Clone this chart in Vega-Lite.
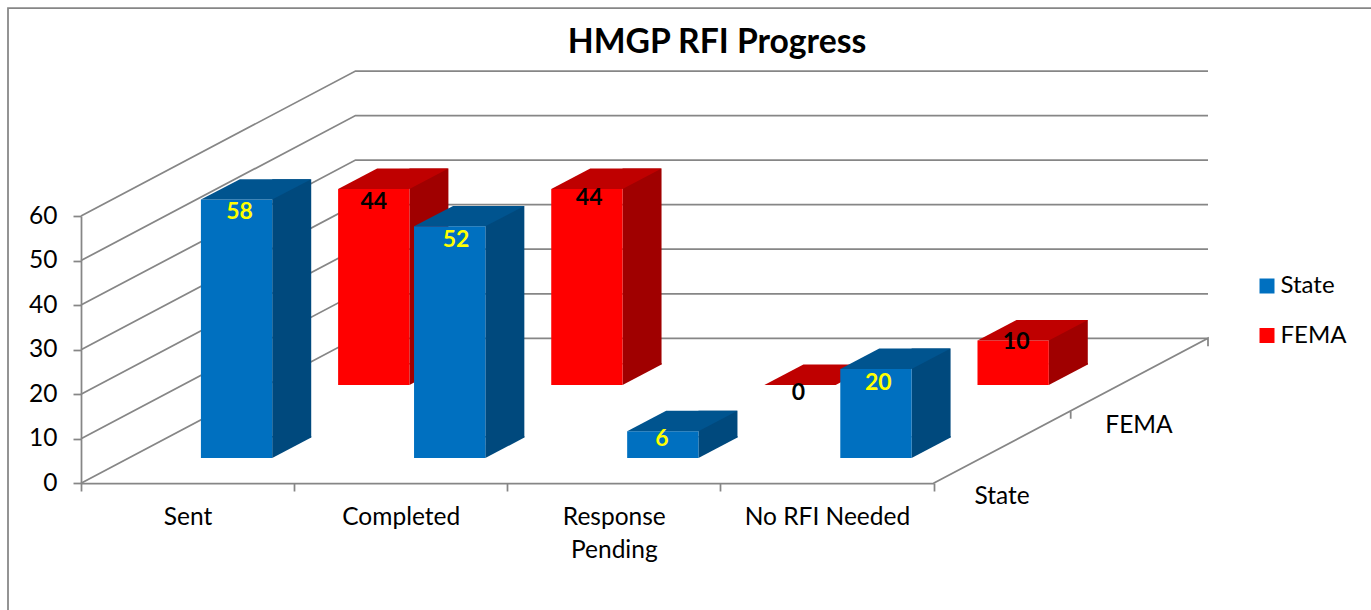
{"$schema":"https://vega.github.io/schema/vega-lite/v6.json","width":1365,"height":606,"autosize":{"type":"none"},"padding":{"left":8,"top":8,"right":-2,"bottom":-4},"background":"white","view":{"stroke":"#868686","strokeWidth":1.75,"fill":null},
"title":{"text":"HMGP RFI Progress","font":"Lato","fontSize":33.7,"fontWeight":"bold","color":"black","anchor":"middle","dx":26.5,"dy":52,"offset":0},
"data":{"values":[{"category":"Sent","series":"State","value":58},{"category":"Completed","series":"State","value":52},{"category":"Response Pending","series":"State","value":6},{"category":"No RFI Needed","series":"State","value":20},{"category":"Sent","series":"FEMA","value":44},{"category":"Completed","series":"FEMA","value":44},{"category":"Response Pending","series":"FEMA","value":0},{"category":"No RFI Needed","series":"FEMA","value":10}]},
"encoding":{"x":{"field":"category","type":"nominal","title":null,"scale":{"type":"band","domain":["Sent","Completed","Response Pending","No RFI Needed"],"range":[73,925.5],"paddingInner":0,"paddingOuter":0},"axis":{"offset":-131,"labelAngle":0,"tickBand":"extent","domainColor":"#868686","domainWidth":1.75,"tickColor":"#868686","tickWidth":1.75,"tickSize":8,"labelFont":"Lato","labelFontSize":24.5,"labelColor":"black","labelPadding":14,"labelLimit":0,"labelLineHeight":33,"labelExpr":"datum.label == 'Response Pending' ? ['Response','Pending'] : datum.label"}},"y":{"field":"value","type":"quantitative","title":null,"stack":null,"scale":{"domain":[0,60],"range":[475.3,208],"nice":false,"zero":true},"axis":{"offset":-73,"values":[0,10,20,30,40,50,60],"grid":false,"domainColor":"#868686","domainWidth":1.75,"tickColor":"#868686","tickWidth":1.75,"tickSize":8,"labelFont":"Lato","labelFontSize":24.5,"labelColor":"black","labelPadding":16}}},
"layer":[
{"data":{"values":[{"tick":0},{"tick":10},{"tick":20},{"tick":30},{"tick":40},{"tick":50},{"tick":60}]},"mark":{"type":"point","shape":"M0,0L274.5,-145H1127","size":4,"filled":false,"stroke":"#868686","strokeWidth":1.75,"opacity":1},"encoding":{"x":{"datum":"Sent","bandPosition":0,"type":"nominal"},"y":{"field":"tick","type":"quantitative"}}},
{"data":{"values":[{"tick":0}]},"mark":{"type":"point","shape":"M0,0L274.5,-145V-137M137.2,-72.5V-64.5","size":4,"filled":false,"stroke":"#868686","strokeWidth":1.75,"opacity":1},"encoding":{"x":{"datum":"No RFI Needed","bandPosition":1,"type":"nominal"},"y":{"field":"tick","type":"quantitative"}}},
{"data":{"values":[{"label":"State","tick":0}]},"mark":{"type":"text","font":"Lato","fontSize":24.5,"color":"black","xOffset":68.5,"yOffset":14},"encoding":{"x":{"datum":"No RFI Needed","bandPosition":1,"type":"nominal"},"y":{"field":"tick","type":"quantitative"},"text":{"field":"label","type":"nominal"}}},
{"data":{"values":[{"label":"FEMA","tick":0}]},"mark":{"type":"text","font":"Lato","fontSize":24.5,"color":"black","xOffset":205.5,"yOffset":-57},"encoding":{"x":{"datum":"No RFI Needed","bandPosition":1,"type":"nominal"},"y":{"field":"tick","type":"quantitative"},"text":{"field":"label","type":"nominal"}}},

{"transform":[{"filter":"datum.series=='FEMA'"}],"mark":{"type":"bar","width":39,"color":"#A00000","xOffset":241.35,"yOffset":-118.7,"y2Offset":-118.7},"encoding":{"y2":{"datum":0}}},
{"transform":[{"filter":"datum.series=='FEMA' && datum.value>0"}],"mark":{"type":"point","shape":"M35.65,0L74.65,-20.4V-22H35.65Z","size":4,"filled":true,"color":"#A00000","opacity":1,"strokeWidth":0,"xOffset":186.2,"yOffset":-98.3},"encoding":{"y":{"datum":0}}},
{"transform":[{"filter":"datum.series=='FEMA'"}],"mark":{"type":"bar","width":71.3,"xOffset":186.2,"yOffset":-98.3,"y2Offset":-98.3},"encoding":{"y2":{"datum":0},"color":{"field":"series","type":"nominal","title":null,"scale":{"domain":["State","FEMA"],"range":["#0070C0","#FF0000"]},"legend":{"orient":"none","legendX":1247,"legendY":266,"symbolType":"square","symbolSize":225,"symbolStrokeWidth":0,"labelFont":"Lato","labelFontSize":24,"labelColor":"black","labelOffset":1.5,"rowPadding":25.5,"padding":0}}}},
{"transform":[{"filter":"datum.series=='FEMA'"}],"mark":{"type":"point","shape":"M-35.65,0H35.65L74.65,-20.4H3.35Z","size":4,"filled":true,"color":"#BF0000","opacity":1,"strokeWidth":0,"xOffset":186.2,"yOffset":-98.3}},

{"transform":[{"filter":"datum.series=='State'"}],"mark":{"type":"bar","width":39,"color":"#00497D","xOffset":104.15,"yOffset":-45.7,"y2Offset":-45.7},"encoding":{"y2":{"datum":0}}},
{"transform":[{"filter":"datum.series=='State'"}],"mark":{"type":"point","shape":"M35.65,0L74.65,-20.4V-22H35.65Z","size":4,"filled":true,"color":"#00497D","opacity":1,"strokeWidth":0,"xOffset":49,"yOffset":-25.3},"encoding":{"y":{"datum":0}}},
{"transform":[{"filter":"datum.series=='State'"}],"mark":{"type":"bar","width":71.3,"xOffset":49,"yOffset":-25.3,"y2Offset":-25.3},"encoding":{"y2":{"datum":0},"color":{"field":"series","type":"nominal","title":null,"scale":{"domain":["State","FEMA"],"range":["#0070C0","#FF0000"]},"legend":{"orient":"none","legendX":1247,"legendY":266,"symbolType":"square","symbolSize":225,"symbolStrokeWidth":0,"labelFont":"Lato","labelFontSize":24,"labelColor":"black","labelOffset":1.5,"rowPadding":25.5,"padding":0}}}},
{"transform":[{"filter":"datum.series=='State'"}],"mark":{"type":"point","shape":"M-35.65,0H35.65L74.65,-20.4H3.35Z","size":4,"filled":true,"color":"#00548F","opacity":1,"strokeWidth":0,"xOffset":49,"yOffset":-25.3}},

{"transform":[{"filter":"datum.series=='State' && datum.category=='Sent'"}],"mark":{"type":"text","font":"Lato","fontSize":23,"fontWeight":"bold","color":"#FFFF00","xOffset":52,"yOffset":-12.9},"encoding":{"text":{"field":"value"}}},
{"transform":[{"filter":"datum.series=='State' && datum.category=='Completed'"}],"mark":{"type":"text","font":"Lato","fontSize":23,"fontWeight":"bold","color":"#FFFF00","xOffset":55.3,"yOffset":-11.3},"encoding":{"text":{"field":"value"}}},
{"transform":[{"filter":"datum.series=='State' && datum.category=='Response Pending'"}],"mark":{"type":"text","font":"Lato","fontSize":23,"fontWeight":"bold","color":"#FFFF00","xOffset":48,"yOffset":-18},"encoding":{"text":{"field":"value"}}},
{"transform":[{"filter":"datum.series=='State' && datum.category=='No RFI Needed'"}],"mark":{"type":"text","font":"Lato","fontSize":23,"fontWeight":"bold","color":"#FFFF00","xOffset":51.3,"yOffset":-11},"encoding":{"text":{"field":"value"}}},
{"transform":[{"filter":"datum.series=='FEMA' && datum.category=='Sent'"}],"mark":{"type":"text","font":"Lato","fontSize":23,"fontWeight":"bold","color":"black","xOffset":186.2,"yOffset":-85.6},"encoding":{"text":{"field":"value"}}},
{"transform":[{"filter":"datum.series=='FEMA' && datum.category=='Completed'"}],"mark":{"type":"text","font":"Lato","fontSize":23,"fontWeight":"bold","color":"black","xOffset":188.5,"yOffset":-89},"encoding":{"text":{"field":"value"}}},
{"transform":[{"filter":"datum.series=='FEMA' && datum.category=='Response Pending'"}],"mark":{"type":"text","font":"Lato","fontSize":23,"fontWeight":"bold","color":"black","xOffset":184.5,"yOffset":-90},"encoding":{"text":{"field":"value"}}},
{"transform":[{"filter":"datum.series=='FEMA' && datum.category=='No RFI Needed'"}],"mark":{"type":"text","font":"Lato","fontSize":23,"fontWeight":"bold","color":"black","xOffset":189.2,"yOffset":-96.3},"encoding":{"text":{"field":"value"}}}
]}
